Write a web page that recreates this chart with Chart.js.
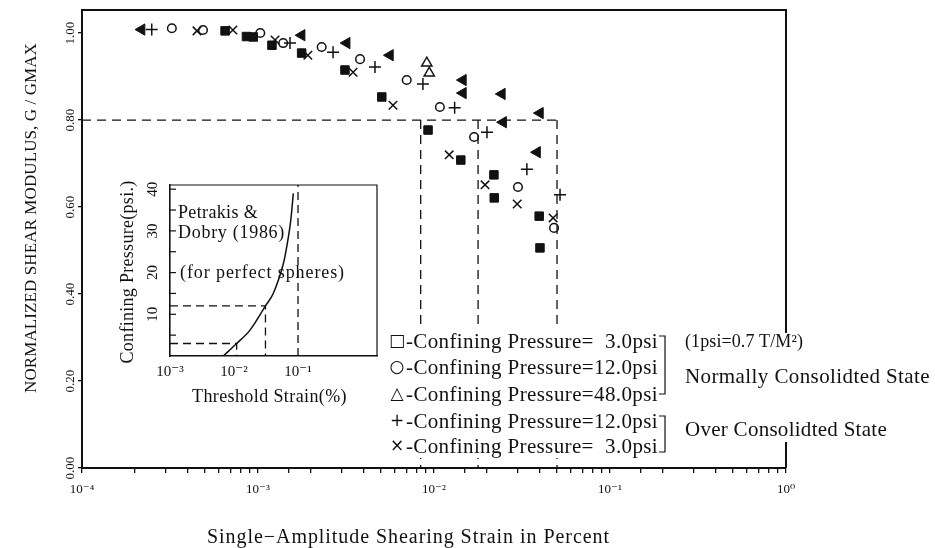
<!DOCTYPE html>
<html>
<head>
<meta charset="utf-8">
<title>Normalized shear modulus vs shearing strain</title>
<script src="https://cdn.jsdelivr.net/npm/chart.js@4.4.1/dist/chart.umd.min.js"></script>
<style>
  html, body { margin: 0; padding: 0; background: #fff; }
  #wrap { position: relative; width: 935px; height: 548px; }
  #main { position: absolute; left: 0; top: 0; }
  #inset { position: absolute; left: 100px; top: 170px; }
</style>
</head>
<body>
<div id="wrap">
  <canvas id="main" width="935" height="548"></canvas>
  <canvas id="inset" width="300" height="240"></canvas>
</div>
<script>
// ---- main plot data (strain in %, G/Gmax) ----
// normally consolidated, 3.0 psi (squares)
const sq3Strain = [6.5e-4, 8.6e-4, 9.4e-4, 1.20e-3, 1.77e-3, 3.12e-3, 5.05e-3, 9.25e-3, 1.42e-2, 2.19e-2, 2.2e-2, 3.96e-2, 4.0e-2];
const sq3Ratio  = [1.005, 0.992, 0.991, 0.972, 0.954, 0.915, 0.853, 0.777, 0.708, 0.674, 0.621, 0.579, 0.506];
// normally consolidated, 12.0 psi (circles)
const ci12Strain = [3.24e-4, 4.87e-4, 1.03e-3, 1.39e-3, 2.30e-3, 3.80e-3, 7.0e-3, 1.08e-2, 1.69e-2, 3.0e-2, 4.81e-2];
const ci12Ratio  = [1.011, 1.007, 1.0, 0.977, 0.968, 0.940, 0.892, 0.830, 0.761, 0.646, 0.552];
// normally consolidated, 48.0 psi (triangles, most printed solid)
const tri48Strain = [2.18e-4, 1.77e-3, 3.19e-3, 5.62e-3, 1.46e-2, 1.46e-2, 2.43e-2, 2.47e-2, 4.0e-2, 3.85e-2];
const tri48Ratio  = [1.008, 0.995, 0.977, 0.949, 0.892, 0.862, 0.860, 0.795, 0.816, 0.726];
const tri48OpenStrain = [9.1e-3, 9.4e-3];
const tri48OpenRatio  = [0.931, 0.908];
// over consolidated, 12.0 psi (+)
const oc12Strain = [2.49e-4, 1.52e-3, 2.67e-3, 4.62e-3, 8.65e-3, 1.31e-2, 2.0e-2, 3.37e-2, 5.2e-2];
const oc12Ratio  = [1.008, 0.977, 0.956, 0.922, 0.883, 0.828, 0.772, 0.687, 0.628];
// over consolidated, 3.0 psi (x)
const oc3Strain = [4.5e-4, 7.2e-4, 1.25e-3, 1.92e-3, 3.47e-3, 5.85e-3, 1.22e-2, 1.95e-2, 2.97e-2, 4.75e-2];
const oc3Ratio  = [1.005, 1.007, 0.984, 0.949, 0.910, 0.834, 0.720, 0.651, 0.607, 0.575];

// threshold guides
const thresholdStrains = [0.0084, 0.0178, 0.05];
const thresholdRatio = 0.8;

const yTicks = [0, 0.2, 0.4, 0.6, 0.8, 1.0];
const yTickLabels = ['0.00', '0.20', '0.40', '0.60', '0.80', '1.00'];

// ---- inset data (threshold strain vs confining pressure) ----
const curveStrain   = [0.0068, 0.011, 0.0178, 0.031, 0.041, 0.058, 0.0626, 0.077, 0.0845];
const curvePressure = [0, 3, 6.2, 12, 15, 21.7, 23.9, 32.5, 39];
const guideStrain   = [0.011, 0.031];
const guidePressure = [3, 12];
const limitStrain = 0.1;
const insetXTicks = [1e-3, 1e-2, 1e-1];
const insetYTicks = [5, 10, 15, 20, 25, 30, 35, 40];
const insetYLabels = [10, 20, 30, 40];

const legendSymbols = ['\u25A1', '\u25CB', '\u25B3', '+', '\u00D7'];
const legendTexts = [
  '-Confining Pressure=  3.0psi',
  '-Confining Pressure=12.0psi',
  '-Confining Pressure=48.0psi',
  '-Confining Pressure=12.0psi',
  '-Confining Pressure=  3.0psi'
];

const ink = '#111';
const serif = "'Liberation Serif', 'DejaVu Serif', serif";

function sup(n) {
  const map = { '-': '\u207B', '0': '\u2070', '1': '\u00B9', '2': '\u00B2', '3': '\u00B3', '4': '\u2074',
                '5': '\u2075', '6': '\u2076', '7': '\u2077', '8': '\u2078', '9': '\u2079' };
  return String(n).split('').map(c => map[c]).join('');
}

function pts(xs, ys) {
  return xs.map((x, i) => ({ x: x, y: ys[i] }));
}

// draw text stretched / squeezed to a given width, left aligned
function fitText(ctx, text, x, y, width) {
  ctx.letterSpacing = '0px';
  const w = ctx.measureText(text).width;
  if (w < width) {
    ctx.letterSpacing = ((width - w) / text.length) + 'px';
    ctx.fillText(text, x, y);
  } else {
    ctx.fillText(text, x, y, width);
  }
  ctx.letterSpacing = '0px';
}

function rotText(ctx, text, cx, cy, width) {
  ctx.save();
  ctx.translate(cx, cy);
  ctx.rotate(-Math.PI / 2);
  if (width) {
    ctx.textAlign = 'left';
    fitText(ctx, text, -width / 2, 0, width);
  } else {
    ctx.textAlign = 'center';
    ctx.fillText(text, 0, 0);
  }
  ctx.restore();
}

const mainText = {
  id: 'mainText',
  afterDraw(chart) {
    const { ctx, chartArea: a, scales } = chart;
    ctx.save();
    ctx.strokeStyle = ink;
    ctx.fillStyle = ink;

    // top and right frame
    ctx.lineWidth = 2;
    ctx.beginPath();
    ctx.moveTo(a.left, a.top);
    ctx.lineTo(a.right, a.top);
    ctx.lineTo(a.right, a.bottom);
    ctx.stroke();

    // y tick labels, printed sideways
    ctx.font = '13px ' + serif;
    ctx.textBaseline = 'middle';
    yTicks.forEach((v, i) => {
      rotText(ctx, yTickLabels[i], 71, scales.y.getPixelForValue(v));
    });

    // axis titles
    ctx.font = '17px ' + serif;
    rotText(ctx, 'NORMALIZED SHEAR MODULUS, G / GMAX', 32, 218, 350);
    ctx.font = '20px ' + serif;
    ctx.textAlign = 'left';
    fitText(ctx, 'Single\u2212Amplitude Shearing Strain in Percent', 207, 538, 403);

    // legend block
    ctx.fillStyle = '#fff';
    ctx.fillRect(386, 330, 282, 128);
    ctx.fillRect(680, 333, 255, 109);
    ctx.fillStyle = ink;
    const rowsY = [342, 368, 395, 422, 447];
    rowsY.forEach((y, i) => {
      ctx.font = "17px 'DejaVu Sans', sans-serif";
      ctx.textAlign = 'center';
      ctx.fillText(legendSymbols[i], 397, y);
      ctx.font = '21px ' + serif;
      ctx.textAlign = 'left';
      fitText(ctx, legendTexts[i], 406, y, 252);
    });

    // brackets
    ctx.lineWidth = 1.2;
    [[336, 394], [416, 452]].forEach(b => {
      ctx.beginPath();
      ctx.moveTo(659, b[0]);
      ctx.lineTo(665, b[0]);
      ctx.lineTo(665, b[1]);
      ctx.lineTo(659, b[1]);
      ctx.stroke();
    });

    ctx.font = '18px ' + serif;
    fitText(ctx, '(1psi=0.7 T/M\u00B2)', 685, 342, 118);
    ctx.font = '21px ' + serif;
    fitText(ctx, 'Normally Consolidted State', 685, 377, 245);
    fitText(ctx, 'Over Consolidted State', 685, 430, 202);
    ctx.restore();
  }
};

const dash = [9, 6];
const mainSets = [
  { data: pts(sq3Strain, sq3Ratio), pointStyle: 'rect', pointRadius: 6, backgroundColor: ink, borderColor: ink, borderWidth: 1 },
  { data: pts(ci12Strain, ci12Ratio), pointStyle: 'circle', pointRadius: 4.3, backgroundColor: 'rgba(255,255,255,0)', borderColor: ink, borderWidth: 1.5 },
  { data: pts(tri48Strain, tri48Ratio), pointStyle: 'triangle', rotation: -90, pointRadius: 6.5, backgroundColor: ink, borderColor: ink, borderWidth: 1 },
  { data: pts(tri48OpenStrain, tri48OpenRatio), pointStyle: 'triangle', pointRadius: 6, backgroundColor: 'rgba(255,255,255,0)', borderColor: ink, borderWidth: 1.4 },
  { data: pts(oc12Strain, oc12Ratio), pointStyle: 'cross', pointRadius: 6, borderColor: ink, borderWidth: 1.5 },
  { data: pts(oc3Strain, oc3Ratio), pointStyle: 'crossRot', pointRadius: 6, borderColor: ink, borderWidth: 1.5 },
  { data: [{ x: 1e-4, y: thresholdRatio }, { x: thresholdStrains[thresholdStrains.length - 1], y: thresholdRatio }],
    showLine: true, borderDash: dash, borderColor: ink, borderWidth: 1.3, pointRadius: 0 }
];
thresholdStrains.forEach(s => {
  mainSets.push({ data: [{ x: s, y: thresholdRatio }, { x: s, y: 0 }],
    showLine: true, borderDash: dash, borderColor: ink, borderWidth: 1.3, pointRadius: 0 });
});

new Chart(document.getElementById('main'), {
  type: 'scatter',
  data: { datasets: mainSets },
  options: {
    responsive: false,
    animation: false,
    devicePixelRatio: 1,
    layout: { padding: { top: 10, right: 149, bottom: 50, left: 0 } },
    plugins: { legend: { display: false }, tooltip: { enabled: false } },
    scales: {
      x: {
        type: 'logarithmic', min: 1e-4, max: 1,
        afterFit: s => { s.height = 30; },
        border: { display: true, color: ink, width: 2 },
        grid: { drawOnChartArea: false, tickLength: 5, color: ink, lineWidth: 1.3 },
        ticks: {
          autoSkip: false, maxRotation: 0, minRotation: 0, padding: 9, color: ink,
          font: { family: serif, size: 13 },
          callback: v => {
            const e = Math.log10(v);
            return Math.abs(e - Math.round(e)) < 1e-6 ? '10' + sup(Math.round(e)) : '';
          }
        }
      },
      y: {
        min: 0, max: 1.053,
        afterFit: s => { s.width = 82; },
        afterBuildTicks: s => { s.ticks = yTicks.map(v => ({ value: v })); },
        border: { display: true, color: ink, width: 2 },
        grid: { drawOnChartArea: false, tickLength: 4, color: ink, lineWidth: 1.3 },
        ticks: { display: false }
      }
    }
  },
  plugins: [mainText]
});

// ---- inset ----
const insetText = {
  id: 'insetText',
  afterDraw(chart) {
    const { ctx, chartArea: a, scales } = chart;
    ctx.save();
    ctx.strokeStyle = ink;
    ctx.fillStyle = ink;
    ctx.lineWidth = 1.2;
    ctx.beginPath();
    ctx.moveTo(a.left, a.top);
    ctx.lineTo(a.right, a.top);
    ctx.lineTo(a.right, a.bottom);
    ctx.stroke();

    // inward ticks on pressure axis
    insetYTicks.forEach(v => {
      const py = scales.y.getPixelForValue(v);
      ctx.beginPath();
      ctx.moveTo(a.left, py);
      ctx.lineTo(a.left + 6, py);
      ctx.stroke();
    });
    ctx.font = '15px ' + serif;
    ctx.textBaseline = 'middle';
    insetYLabels.forEach(v => {
      rotText(ctx, String(v), a.left - 17, scales.y.getPixelForValue(v));
    });

    ctx.font = '18px ' + serif;
    rotText(ctx, 'Confining Pressure(psi.)', 28, 102, 183);
    ctx.textAlign = 'left';
    fitText(ctx, 'Threshold Strain(%)', 92, 227, 155);
    fitText(ctx, 'Petrakis &', 78, 43, 80);
    fitText(ctx, 'Dobry (1986)', 78, 63, 107);
    fitText(ctx, '(for perfect spheres)', 80, 103, 165);
    ctx.restore();
  }
};

const insetSets = [
  { data: pts(curveStrain, curvePressure), showLine: true, cubicInterpolationMode: 'monotone',
    borderColor: ink, borderWidth: 1.5, pointRadius: 0 },
  { data: [{ x: limitStrain, y: 0 }, { x: limitStrain, y: 41 }],
    showLine: true, borderDash: [8, 5], borderColor: ink, borderWidth: 1.3, pointRadius: 0 }
];
guideStrain.forEach((s, i) => {
  insetSets.push({ data: [{ x: 1e-3, y: guidePressure[i] }, { x: s, y: guidePressure[i] }, { x: s, y: 0 }],
    showLine: true, borderDash: [8, 5], borderColor: ink, borderWidth: 1.3, pointRadius: 0 });
});

new Chart(document.getElementById('inset'), {
  type: 'scatter',
  data: { datasets: insetSets },
  options: {
    responsive: false,
    animation: false,
    devicePixelRatio: 1,
    layout: { padding: { top: 15, right: 23, bottom: 24, left: 0 } },
    plugins: { legend: { display: false }, tooltip: { enabled: false } },
    scales: {
      x: {
        type: 'logarithmic', min: 1e-3, max: 1.714,
        afterFit: s => { s.height = 30; },
        afterBuildTicks: s => { s.ticks = insetXTicks.map(v => ({ value: v })); },
        border: { display: true, color: ink, width: 1.6 },
        grid: { display: false, drawTicks: false },
        ticks: {
          autoSkip: false, maxRotation: 0, minRotation: 0, padding: 7, color: ink,
          font: { family: serif, size: 15 },
          callback: v => '10' + sup(Math.round(Math.log10(v)))
        }
      },
      y: {
        min: 0, max: 41,
        afterFit: s => { s.width = 70; },
        border: { display: true, color: ink, width: 1.6 },
        grid: { display: false, drawTicks: false },
        ticks: { display: false }
      }
    }
  },
  plugins: [insetText]
});
</script>
</body>
</html>
